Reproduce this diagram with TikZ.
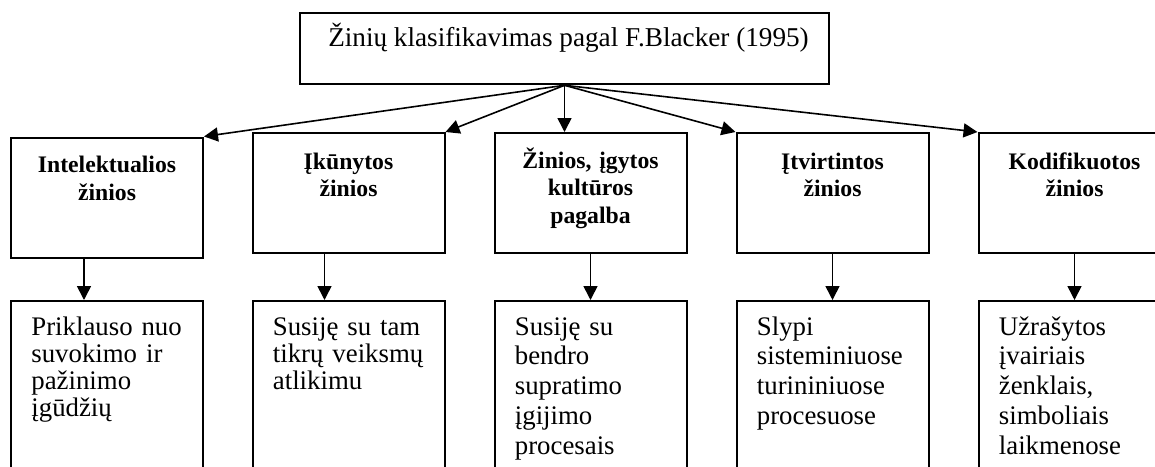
\documentclass[tikz,border=0pt]{standalone}
\usepackage{fontspec}
\setmainfont{Liberation Serif}
\usetikzlibrary{arrows.meta, positioning, calc}

\begin{document}
\begin{tikzpicture}
   [
      x=0.5pt, y=-0.5pt,
      frame/.style={draw, line width=1pt, inner sep=0pt, minimum width=96pt},
      cat box/.style={frame, minimum height=60pt},
      desc box/.style={frame, minimum height=100pt},
      cat text/.style={anchor=base, inner sep=0pt, text width=90pt, align=center,
         font=\bfseries\fontsize{11.85}{13.75}\selectfont},
      desc text/.style={anchor=base west, inner sep=0pt, text width=86pt, align=left,
         font=\fontsize{13.4}{#1}\selectfont},
      desc text/.default=13.5pt,
      link/.style={line width=0.8pt, -{Triangle[length=7pt, width=7pt]}}
   ]

   \useasboundingbox (0,0) rectangle (1155,466);
   \clip (0,0) rectangle (1155,466);

   % =======================================================
   % Top box: classification
   % =======================================================

   \node[frame, minimum width=264.5pt, minimum height=35.8pt] (klasif) at (564.5,48.5) {};
   \node[anchor=base, inner sep=0pt, font=\fontsize{13.6}{13.75}\selectfont] (klasif_txt)
      at ($(klasif.north)+(4,35)$) {Žinių klasifikavimas pagal F.Blacker (1995)};

   % =======================================================
   % Middle row: kinds of knowledge
   % =======================================================

   \node[cat box] (cat_intel) at (107,197.5) {};
   \node[cat box] (cat_ikun) at (348.5,193) {};
   \node[cat box, right=24pt of cat_ikun] (cat_kult) {};
   \node[cat box, right=24pt of cat_kult] (cat_itv) {};
   \node[cat box, right=24pt of cat_itv] (cat_kod) {};

   \node[cat text] (cat_intel_txt) at ($(cat_intel.north)+(0,36)$) {Intelektualios\\žinios};
   \node[cat text] (cat_ikun_txt) at ($(cat_ikun.north)+(0,37)$) {Įkūnytos\\žinios};
   \node[cat text] (cat_kult_txt) at ($(cat_kult.north)+(0,36)$) {Žinios, įgytos\\kultūros\\pagalba};
   \node[cat text] (cat_itv_txt) at ($(cat_itv.north)+(0,37)$) {Įtvirtintos\\žinios};
   \node[cat text] (cat_kod_txt) at ($(cat_kod.north)+(0,37)$) {Kodifikuotos\\žinios};

   % =======================================================
   % Bottom row: descriptions (cut by the page edge)
   % =======================================================

   \coordinate (desc_row) at (0,401);

   \node[desc box] (desc_intel) at (cat_intel |- desc_row) {};
   \node[desc box] (desc_ikun) at (cat_ikun |- desc_row) {};
   \node[desc box] (desc_kult) at (cat_kult |- desc_row) {};
   \node[desc box] (desc_itv) at (cat_itv |- desc_row) {};
   \node[desc box] (desc_kod) at (cat_kod |- desc_row) {};

   \node[desc text] (desc_intel_txt) at ($(desc_intel.north west)+(21,35)$)
      {Priklauso nuo\\suvokimo ir\\pažinimo\\įgūdžių};
   \node[desc text] (desc_ikun_txt) at ($(desc_ikun.north west)+(21,35)$)
      {Susiję su tam\\tikrų veiksmų\\atlikimu};
   \node[desc text=14.9pt] (desc_kult_txt) at ($(desc_kult.north west)+(21,35)$)
      {Susiję su\\bendro\\supratimo\\įgijimo\\procesais};
   \node[desc text=14.9pt] (desc_itv_txt) at ($(desc_itv.north west)+(21,35)$)
      {Slypi\\sisteminiuose\\turininiuose\\procesuose};
   \node[desc text=14.9pt] (desc_kod_txt) at ($(desc_kod.north west)+(21,35)$)
      {Užrašytos\\įvairiais\\ženklais,\\simboliais\\laikmenose};

   % =======================================================
   % Arrows
   % =======================================================

   % fan out from the top box
   \draw[link] (klasif.south) -- (cat_intel.north east);
   \draw[link] (klasif.south) -- (cat_ikun.north east);
   \draw[link] (klasif.south) -- (klasif.south |- cat_kult.north);
   \draw[link] (klasif.south) -- (cat_itv.north west);
   \draw[link] (klasif.south) -- (cat_kod.north west);

   % down to the descriptions
   \draw[link] ($(cat_intel.south)+(-23,0)$) -- ($(desc_intel.north)+(-23,0)$);
   \draw[link] ($(cat_ikun.south)+(-24,0)$) -- ($(desc_ikun.north)+(-24,0)$);
   \draw[link] (cat_kult) -- (desc_kult);
   \draw[link] (cat_itv) -- (desc_itv);
   \draw[link] (cat_kod) -- (desc_kod);

\end{tikzpicture}
\end{document}
